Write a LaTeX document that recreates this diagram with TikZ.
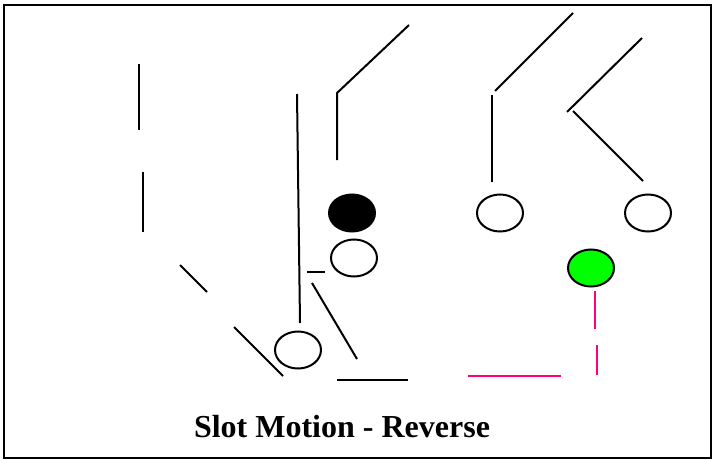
\documentclass[tikz,border=0pt]{standalone}
\usepackage{fontspec}
\setmainfont{Liberation Serif}
\usetikzlibrary{shapes.geometric}
\definecolor{routepink}{RGB}{255,0,128}
\definecolor{playergreen}{RGB}{0,255,0}
\tikzset{
  player/.style={ellipse, draw=black, line width=2pt, minimum width=46pt, minimum height=37pt, inner sep=0pt},
  route/.style={draw=black, line width=2pt},
  pinkroute/.style={draw=routepink, line width=2pt},
}
\begin{document}
\begin{tikzpicture}[x=1pt,y=-1pt]
\useasboundingbox (0,0) rectangle (712,460);
\draw[line width=2pt] (4,5) rectangle (711,458);

% players
\node[player, fill=black] (qb) at (352,213) {};
\node[player, fill=white] (c) at (354,258) {};
\node[player, fill=white] (rb) at (298,350) {};
\node[player, fill=white] (p1) at (500,213) {};
\node[player, fill=white] (p2) at (648,213) {};
\node[player, fill=playergreen] (g) at (591,268) {};

% black routes
\draw[route] (139,64) -- (139,130);
\draw[route] (143,172) -- (143,232);
\draw[route] (180,265) -- (207,292);
\draw[route] (234,327) -- (283,376);
\draw[route] (297,94) -- (300,323);
\draw[route] (337,160) -- (337,93) -- (409,25);
\draw[route] (307,272) -- (325,272);
\draw[route] (312,283) -- (357,359);
\draw[route] (337,380) -- (408,380);
\draw[route] (492,182) -- (492,95);
\draw[route] (495,91) -- (573,13);
\draw[route] (567,112) -- (642,38);
\draw[route] (573,111) -- (643,181);

% pink route
\draw[pinkroute] (595,291) -- (595,329);
\draw[pinkroute] (597,345) -- (597,375);
\draw[pinkroute] (468,376) -- (561,376);

\node[font=\bfseries\fontsize{32}{36}\selectfont, anchor=base] (title) at (342,437) {Slot Motion - Reverse};
\end{tikzpicture}
\end{document}
